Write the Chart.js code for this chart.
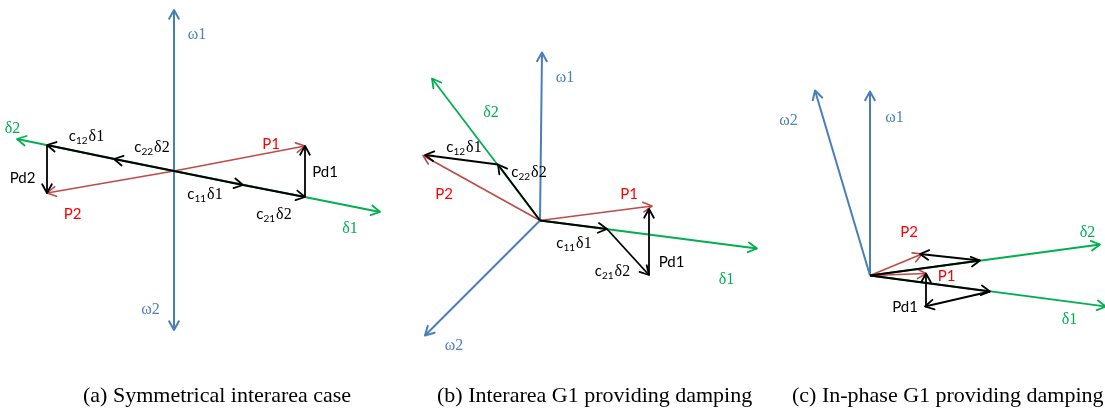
<!DOCTYPE html>
<html>
<head>
<meta charset="utf-8">
<script src="https://cdn.jsdelivr.net/npm/chart.js@4/dist/chart.umd.min.js"></script>
<style>
  html, body { margin: 0; padding: 0; background: #fff; }
  #wrap { position: relative; width: 1105px; height: 408px; overflow: hidden; }
  #phasors { position: absolute; left: 0; top: 0; }
  .cap { position: absolute; top: 384px; font: 22px "Liberation Serif", "Times New Roman", serif;
         line-height: 22px; color: #000; white-space: nowrap; }
</style>
</head>
<body>
<div id="wrap">
  <canvas id="phasors" width="1105" height="408"></canvas>
  <div class="cap" style="left:83px">(a) Symmetrical interarea case</div>
  <div class="cap" style="left:437px">(b) Interarea G1 providing damping</div>
  <div class="cap" style="left:792px">(c) In-phase G1 providing damping</div>
</div>
<script>
// ---- Phasor data: each vector is [x0, y0, x1, y1] in the panel's own plane ----

// (a) Symmetrical interarea case
const aSpeed  = [[0, 0, 0, 161], [0, 0, 0, -159]];                 // ω1, ω2
const aAngle  = [[0, 0, 206, -41], [0, 0, -157, 32]];              // δ1, δ2
const aSync   = [[0, 0, 69, -14], [69, -14, 131, -26],             // c11δ1, c21δ2
                 [0, 0, -60, 12], [-60, 12, -127, 26]];            // c22δ2, c12δ1
const aDamp   = [[131, -26, 131, 25], [-127, 26, -127, -22]];      // Pd1, Pd2
const aPower  = [[0, 0, 131, 25], [0, 0, -127, -22]];              // P1, P2

// (b) Interarea, G1 providing damping
const bSpeed  = [[0, 0, 2, 168], [0, 0, -115, -115]];
const bAngle  = [[0, 0, 217, -28], [0, 0, -108, 142]];
const bSync   = [[0, 0, 67, -8.5], [67, -8.5, 109, -54.5],
                 [0, 0, -42, 56], [-42, 56, -115, 65.5]];
const bDamp   = [[109, -54.5, 109, 11.5]];
const bPower  = [[0, 0, 112, 14.5], [0, 0, -117, 65]];

// (c) In-phase, G1 providing damping
const cSpeed  = [[0, 0, 0, 184], [0, 0, -55, 185]];
const cAngle  = [[0, 0, 236, -31], [0, 0, 230, 31]];
const cSync   = [[0, 0, 110, 15], [110, 15, 50, 21.5],
                 [0, 0, 120, -16], [120, -16, 55, -31]];
const cDamp   = [[56, -31, 56, 2]];
const cPower  = [[0, 0, 52, 21.5], [0, 0, 56, 2]];

// ---- Labels: [kind, text, x, y]; kind c = "c" with subscript then tail ----
const aLabels = [
  ['w', 'ω1', 23, 138], ['w', 'ω2', -23.5, -137],
  ['d', 'δ2', -161.5, 44], ['d', 'δ1', 176, -56],
  ['p', 'P1', 97, 28], ['p', 'P2', -101.5, -42],
  ['k', 'Pd1', 151, 0], ['k', 'Pd2', -151.5, -6],
  ['c', '12|δ1', -87.5, 36], ['c', '22|δ2', -22, 25],
  ['c', '11|δ1', 31, -22], ['c', '21|δ2', 100, -42]
];
const bLabels = [
  ['w', 'ω1', 25, 144], ['w', 'ω2', -86, -123.5],
  ['d', 'δ2', -49, 109.5], ['d', 'δ1', 186.5, -57.5],
  ['p', 'P1', 89, 27.5], ['p', 'P2', -96, 27.5],
  ['k', 'Pd1', 131.5, -41],
  ['c', '11|δ1', 34, -21.5], ['c', '21|δ2', 72.5, -49.5],
  ['c', '12|δ1', -76, 74], ['c', '22|δ2', -11, 49]
];
const cLabels = [
  ['w', 'ω1', 24.5, 159], ['w', 'ω2', -81.5, 156.5],
  ['d', 'δ2', 217.5, 44.5], ['d', 'δ1', 199.5, -42.5],
  ['p', 'P2', 39, 44], ['p', 'P1', 76.5, 0.5],
  ['k', 'Pd1', 35, -31]
];

// ---- Layout: where each panel's origin sits on the canvas (px) ----
const W = 1105, H = 408;
const origins = { a: [174, 171], b: [540, 220.5], c: [870, 275.5] };

const COL = {
  speed: '#4A7EBB', speedText: '#4F81BD',
  angle: '#00B050', angleText: '#00B050',
  power: '#BE4B48', powerText: '#FF0000',
  black: '#000000'
};

function vectors(list, panel, color, width, order) {
  return list.map(v => ({
    data: [{ x: v[0], y: v[1] }, { x: v[2], y: v[3] }],
    xAxisID: 'x' + panel, yAxisID: 'y' + panel,
    showLine: true, borderColor: color, borderWidth: width,
    pointRadius: 0, pointHoverRadius: 0, clip: false, order: order,
    arrow: true
  }));
}

const datasets = [];
[['a', aSpeed, aAngle, aSync, aDamp, aPower],
 ['b', bSpeed, bAngle, bSync, bDamp, bPower],
 ['c', cSpeed, cAngle, cSync, cDamp, cPower]].forEach(([p, sp, an, sy, dm, pw]) => {
  datasets.push(...vectors(sp, p, COL.speed, 2, 4));
  datasets.push(...vectors(an, p, COL.angle, 1.8, 3));
  datasets.push(...vectors(pw, p, COL.power, 1.6, 2));
  datasets.push(...vectors(sy, p, COL.black, 1.8, 1));
  datasets.push(...vectors(dm, p, COL.black, 1.8, 1));
});

const scales = {};
Object.keys(origins).forEach(p => {
  const [ox, oy] = origins[p];
  scales['x' + p] = { type: 'linear', axis: 'x', min: -ox, max: W - ox, display: false };
  scales['y' + p] = { type: 'linear', axis: 'y', min: oy - H, max: oy, display: false };
});

// Open "V" arrowheads at the tip of every vector
const arrowHeads = {
  id: 'arrowHeads',
  afterDatasetDraw(chart, args) {
    const ds = chart.data.datasets[args.index];
    if (!ds.arrow) return;
    const pts = args.meta.data;
    const a = pts[0], b = pts[pts.length - 1];
    const ang = Math.atan2(b.y - a.y, b.x - a.x);
    const L = 10, spread = Math.PI / 6.2;
    const ctx = chart.ctx;
    ctx.save();
    ctx.strokeStyle = ds.borderColor;
    ctx.lineWidth = ds.borderWidth;
    ctx.lineCap = 'round';
    ctx.lineJoin = 'round';
    ctx.beginPath();
    ctx.moveTo(b.x - L * Math.cos(ang - spread), b.y - L * Math.sin(ang - spread));
    ctx.lineTo(b.x, b.y);
    ctx.lineTo(b.x - L * Math.cos(ang + spread), b.y - L * Math.sin(ang + spread));
    ctx.stroke();
    ctx.restore();
  }
};

// Phasor names, placed in each panel's plane
const SANS = '15px Lato, "Open Sans", sans-serif';
const SUB = '10px Lato, "Open Sans", sans-serif';
const SERIF = '16px "Liberation Serif", "Times New Roman", serif';
const phasorLabels = {
  id: 'phasorLabels',
  afterDraw(chart) {
    const ctx = chart.ctx;
    const sets = { a: aLabels, b: bLabels, c: cLabels };
    ctx.save();
    ctx.textBaseline = 'alphabetic';
    ctx.textAlign = 'left';
    Object.keys(sets).forEach(p => {
      const xs = chart.scales['x' + p], ys = chart.scales['y' + p];
      sets[p].forEach(([kind, text, x, y]) => {
        const cx = xs.getPixelForValue(x);
        const base = ys.getPixelForValue(y) + 5.5;
        if (kind === 'c') {
          const [sub, tail] = text.split('|');
          ctx.font = SANS; const w1 = ctx.measureText('c').width;
          ctx.font = SUB; const w2 = ctx.measureText(sub).width;
          ctx.font = SERIF; const w3 = ctx.measureText(tail).width;
          let left = cx - (w1 + w2 + w3 + 1) / 2;
          ctx.fillStyle = COL.black;
          ctx.font = SANS; ctx.fillText('c', left, base); left += w1;
          ctx.font = SUB; ctx.fillText(sub, left, base + 3); left += w2 + 1;
          ctx.font = SERIF; ctx.fillText(tail, left, base);
          return;
        }
        if (kind === 'w') { ctx.font = SERIF; ctx.fillStyle = COL.speedText; }
        else if (kind === 'd') { ctx.font = SERIF; ctx.fillStyle = COL.angleText; }
        else if (kind === 'p') { ctx.font = SANS; ctx.fillStyle = COL.powerText; }
        else { ctx.font = SANS; ctx.fillStyle = COL.black; }
        const w = ctx.measureText(text).width;
        ctx.fillText(text, cx - w / 2, base);
      });
    });
    ctx.restore();
  }
};

new Chart(document.getElementById('phasors'), {
  type: 'scatter',
  data: { datasets },
  options: {
    responsive: false,
    animation: false,
    devicePixelRatio: 1,
    events: [],
    layout: { padding: 0 },
    plugins: { legend: { display: false }, tooltip: { enabled: false }, title: { display: false } },
    scales
  },
  plugins: [arrowHeads, phasorLabels]
});
</script>
</body>
</html>
